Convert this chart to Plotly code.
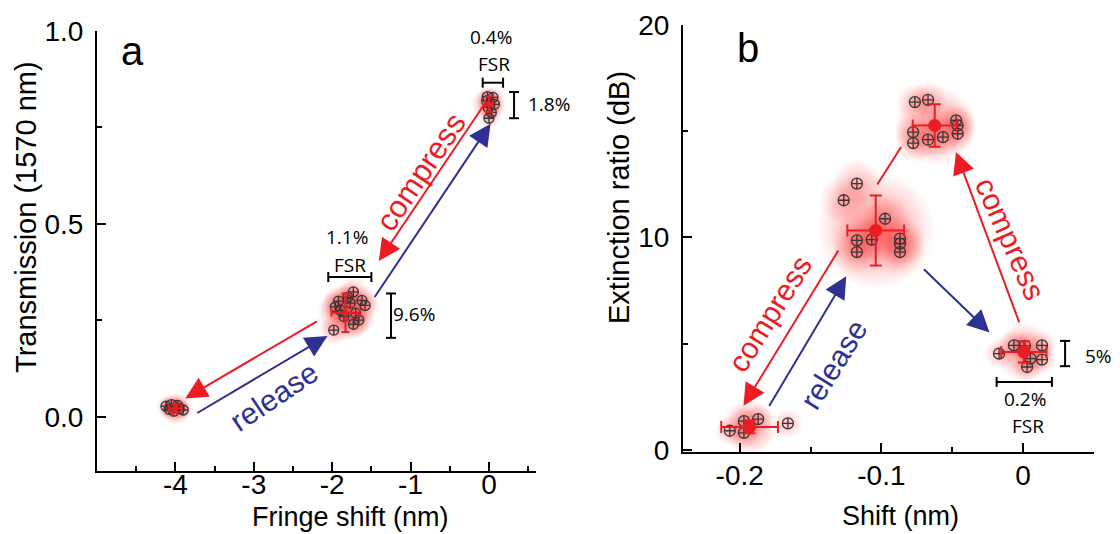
import plotly.graph_objects as go

# ---------------- data: panel a ----------------
a1_x = [-4.12, -4.05, -3.97, -3.90, -4.02, -3.95, -4.08]
a1_y = [0.028, 0.032, 0.030, 0.018, 0.015, 0.022, 0.020]
a2_x = [-1.98, -1.96, -1.92, -1.89, -1.85, -1.77, -1.73, -1.70, -1.66, -1.62, -1.58, -1.73, -1.80]
a2_y = [0.225, 0.285, 0.300, 0.276, 0.260, 0.295, 0.324, 0.269, 0.251, 0.302, 0.289, 0.240, 0.310]
a3_x = [-0.03, 0.05, -0.01, 0.03, 0.00, 0.07, -0.02]
a3_y = [0.819, 0.828, 0.802, 0.789, 0.774, 0.810, 0.830]
a_mean_x = [-4.0, -1.83, 0.0]
a_mean_y = [0.022, 0.27, 0.81]
a_err_x = [0.08, 0.18, 0.05]
a_err_y = [0.01, 0.05, 0.02]

# ---------------- data: panel b ----------------
b1_x = [-0.207, -0.197, -0.197, -0.187, -0.166]
b1_y = [0.9, 1.35, 0.8, 1.45, 1.25]
b2_x = [-0.1173, -0.1266, -0.0974, -0.1173, -0.1173, -0.1068, -0.0869, -0.0869, -0.0869]
b2_y = [12.53, 11.75, 10.88, 9.86, 9.31, 9.90, 9.94, 9.71, 9.31]
b3_x = [-0.0764, -0.0671, -0.0776, -0.0776, -0.0671, -0.0566, -0.0473, -0.0462, -0.0462]
b3_y = [16.37, 16.48, 14.96, 14.44, 14.60, 14.72, 15.51, 15.27, 14.88]
b4_x = [-0.017, -0.0065, 0.0013, 0.0133, 0.0051, 0.0133, 0.0028]
b4_y = [4.53, 4.92, 4.90, 4.92, 4.30, 4.25, 3.90]
b_mean_x = [-0.193, -0.104, -0.0624, 0.0005]
b_mean_y = [1.08, 10.33, 15.27, 4.61]
b_err_x = [0.02, 0.02, 0.0155, 0.016]
b_err_y = [0.3, 1.65, 1.0, 0.5]

# tick settings
a_xticks = [-4, -3, -2, -1, 0]
a_yticks = [0.0, 0.5, 1.0]
b_xticks = [-0.2, -0.1, 0]
b_yticks = [0, 10, 20]

RED = "rgb(236,28,36)"
BLUE = "rgb(46,49,146)"
GREY = "rgb(55,55,55)"
FONT = "Liberation Sans, Arial, sans-serif"
SMALLFONT = "Open Sans, Liberation Sans, sans-serif"
W, H = 1120, 534

fig = go.Figure()


def halo(xs, ys, size, xa, ya, alpha):
    fig.add_trace(go.Scatter(
        x=xs, y=ys, mode="markers", xaxis=xa, yaxis=ya, hoverinfo="skip",
        marker=dict(size=size, color="rgba(255,40,40,0)",
                    gradient=dict(type="radial", color=f"rgba(245,15,15,{alpha})"),
                    line=dict(width=0))))


def pts(xs, ys, size, xa, ya):
    fig.add_trace(go.Scatter(
        x=xs, y=ys, mode="markers", xaxis=xa, yaxis=ya,
        marker=dict(symbol="circle-cross-open", size=size, color=GREY,
                    line=dict(width=1.3, color=GREY))))


# panel a: glow (cluster + per point), points, mean with error bars
halo(a_mean_x, a_mean_y, [32, 56, 34], "x", "y", 0.8)
for xs, ys, s in [(a1_x, a1_y, 20), (a2_x, a2_y, 30), (a3_x, a3_y, 20)]:
    halo(xs, ys, s, "x", "y", 0.35)
for xs, ys in [(a1_x, a1_y), (a2_x, a2_y), (a3_x, a3_y)]:
    pts(xs, ys, 10, "x", "y")
fig.add_trace(go.Scatter(
    x=a_mean_x, y=a_mean_y, mode="markers", xaxis="x", yaxis="y",
    marker=dict(size=6, color=RED),
    error_x=dict(type="data", array=a_err_x, color=RED, thickness=2, width=4),
    error_y=dict(type="data", array=a_err_y, color=RED, thickness=2, width=4)))

# panel b
halo(b_mean_x, b_mean_y, [55, 118, 80, 58], "x2", "y2", 0.75)
for xs, ys, s in [(b1_x, b1_y, 30), (b2_x, b2_y, 50), (b3_x, b3_y, 38), (b4_x, b4_y, 30)]:
    halo(xs, ys, s, "x2", "y2", 0.3)
for xs, ys in [(b1_x, b1_y), (b2_x, b2_y), (b3_x, b3_y), (b4_x, b4_y)]:
    pts(xs, ys, 11, "x2", "y2")
fig.add_trace(go.Scatter(
    x=b_mean_x, y=b_mean_y, mode="markers", xaxis="x2", yaxis="y2",
    marker=dict(size=13, color=RED),
    error_x=dict(type="data", array=b_err_x, color=RED, thickness=2, width=6),
    error_y=dict(type="data", array=b_err_y, color=RED, thickness=2, width=6)))

annotations = []


def arrow(x0, y0, x1, y1, color, xr, yr, head=True):
    annotations.append(dict(
        x=x1, y=y1, ax=x0, ay=y0, xref=xr, yref=yr, axref=xr, ayref=yr,
        showarrow=True, arrowhead=2 if head else 0, arrowsize=2.2, arrowwidth=2,
        arrowcolor=color, text="", standoff=0, startstandoff=0))


def text(x, y, s, color, size, xr, yr, angle=0, family=FONT):
    annotations.append(dict(
        x=x, y=y, xref=xr, yref=yr, text=s, showarrow=False, textangle=angle,
        xanchor="center", yanchor="middle",
        font=dict(family=family, size=size, color=color)))


def ptext(px, py, s, size, angle=0, family=FONT):
    annotations.append(dict(x=px / W, y=1 - py / H, xref="paper", yref="paper",
                            text=s, showarrow=False, textangle=angle,
                            xanchor="center", yanchor="middle",
                            font=dict(family=family, size=size, color="black")))


# panel a arrows
arrow(-0.02, 0.822, -1.405, 0.404, RED, "x", "y")
arrow(-1.47, 0.307, 0.02, 0.76, BLUE, "x", "y")
arrow(-2.175, 0.25, -3.875, 0.048, RED, "x", "y")
arrow(-3.74, 0.008, -2.06, 0.21, BLUE, "x", "y")
text(-0.873, 0.633, "compress", RED, 31, "x", "y", -56)
text(-2.742, 0.052, "release", BLUE, 30, "x", "y", -34)

# panel b arrows
arrow(-0.1298, 9.45, -0.1973, 2.08, RED, "x2", "y2")
arrow(-0.1798, 2.0, -0.1248, 8.17, BLUE, "x2", "y2")
arrow(-0.1036, 12.42, -0.0861, 14.26, RED, "x2", "y2", head=False)
arrow(-0.0711, 8.57, -0.0237, 5.53, BLUE, "x2", "y2")
arrow(-0.0024, 5.93, -0.0474, 14.02, RED, "x2", "y2")
text(-0.1785, 6.41, "compress", RED, 30, "x2", "y2", -58)
text(-0.1336, 4.0, "release", BLUE, 30, "x2", "y2", -58)
text(-0.0093, 9.93, "compress", RED, 30, "x2", "y2", 66)

# percent labels
text(0.02, 0.985, "0.4%", "black", 19, "x", "y", family=SMALLFONT)
text(0.07, 0.915, "FSR", "black", 19, "x", "y", family=SMALLFONT)
text(-1.813, 0.466, "1.1%", "black", 19, "x", "y", family=SMALLFONT)
text(-1.768, 0.395, "FSR", "black", 19, "x", "y", family=SMALLFONT)
ptext(549, 104, "1.8%", 19, family=SMALLFONT)
text(-0.95, 0.266, "9.6%", "black", 19, "x", "y", family=SMALLFONT)
ptext(1098, 356, "5%", 19, family=SMALLFONT)
text(0.0013, 2.4, "0.2%", "black", 19, "x2", "y2", family=SMALLFONT)
text(0.0033, 1.12, "FSR", "black", 19, "x2", "y2", family=SMALLFONT)

# panel letters and axis titles
ptext(132, 51, "a", 40)
ptext(748, 48, "b", 40)
ptext(26, 217, "Transmission (1570 nm)", 29, -90)
ptext(350, 517, "Fringe shift (nm)", 27)
ptext(619, 198, "Extinction ratio (dB)", 29, -90)
ptext(900, 516, "Shift (nm)", 27)

# brackets
shapes = []


def hbracket(x0, x1, y, xr, yr):
    shapes.append(dict(type="line", xref=xr, yref=yr, x0=x0, x1=x1, y0=y, y1=y,
                       line=dict(color="black", width=2)))
    for xx in (x0, x1):
        shapes.append(dict(type="line", xref=xr, yref=yr, x0=xx, x1=xx,
                           ysizemode="pixel", yanchor=y, y0=-5, y1=5,
                           line=dict(color="black", width=2)))


def vbracket(x, y0, y1, xr, yr):
    shapes.append(dict(type="line", xref=xr, yref=yr, x0=x, x1=x, y0=y0, y1=y1,
                       line=dict(color="black", width=2)))
    for yy in (y0, y1):
        shapes.append(dict(type="line", xref=xr, yref=yr, y0=yy, y1=yy,
                           xsizemode="pixel", xanchor=x, x0=-5, x1=5,
                           line=dict(color="black", width=2)))


hbracket(-0.08, 0.18, 0.866, "x", "y")
hbracket(-2.05, -1.5, 0.3625, "x", "y")
vbracket(0.32, 0.842, 0.774, "x", "y")
vbracket(-1.25, 0.32, 0.205, "x", "y")
vbracket(0.0296, 5.13, 3.94, "x2", "y2")
hbracket(-0.0187, 0.0203, 3.2, "x2", "y2")

axis_common = dict(showline=True, linecolor="black", linewidth=2, mirror=False,
                   ticks="inside", ticklen=9, tickwidth=2, tickcolor="black",
                   showgrid=False, zeroline=False,
                   tickfont=dict(family=FONT, size=28, color="black"))

fig.update_layout(
    width=W, height=H, margin=dict(l=0, r=0, t=0, b=0, autoexpand=False),
    paper_bgcolor="white", plot_bgcolor="white", showlegend=False,
    xaxis=dict(domain=[97 / W, 536 / W], range=[-5, 0.6], anchor="y",
               tickvals=a_xticks, ticktext=[str(v) for v in a_xticks],
               minor=dict(ticks="inside", ticklen=5, tickwidth=2, dtick=0.5, tick0=0,
                          tickcolor="black"),
               ticklabelstandoff=-13, **axis_common),
    yaxis=dict(domain=[1 - 471 / H, 1 - 31 / H], range=[-0.14, 1.0], anchor="x",
               tickvals=a_yticks, ticktext=["0.0", "0.5", "1.0"],
               minor=dict(ticks="inside", ticklen=5, tickwidth=2, dtick=0.25, tick0=0,
                          tickcolor="black"),
               ticklabelstandoff=6, **axis_common),
    xaxis2=dict(domain=[683 / W, 1094 / W], range=[-0.24, 0.05], anchor="y2",
                tickvals=b_xticks, ticktext=["-0.2", "-0.1", "0"],
                minor=dict(ticks="inside", ticklen=5, tickwidth=2, dtick=0.05, tick0=0,
                           tickcolor="black"),
                ticklabelstandoff=-3, **axis_common),
    yaxis2=dict(domain=[1 - 452 / H, 1 - 25 / H], range=[-0.1, 20], anchor="x2",
                tickvals=b_yticks, ticktext=["0", "10", "20"],
                minor=dict(ticks="inside", ticklen=5, tickwidth=2, dtick=5, tick0=0,
                           tickcolor="black"),
                ticklabelstandoff=6, **axis_common),
    annotations=annotations, shapes=shapes,
)

fig.write_html("out.html", config={"displayModeBar": False},
               post_script="document.body.style.margin='0';")
